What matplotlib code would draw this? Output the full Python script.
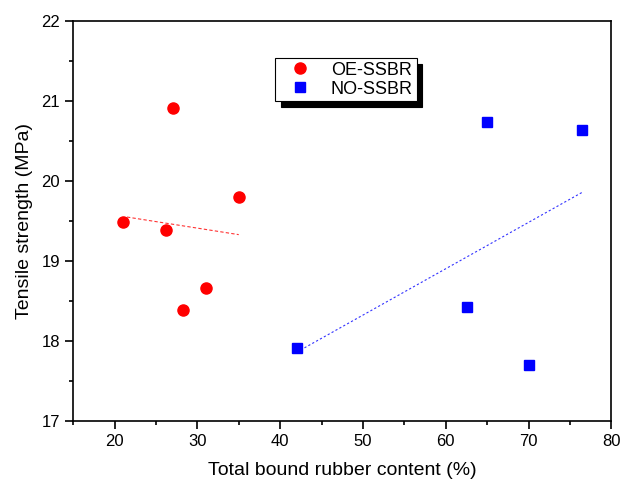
import matplotlib.pyplot as plt
from matplotlib.ticker import MultipleLocator

plt.rcParams['font.family'] = ['Liberation Sans', 'DejaVu Sans']

# OE-SSBR data
oe_x = [21.0, 27.1, 26.2, 35.0, 31.0, 28.3]
oe_y = [19.49, 20.91, 19.39, 19.80, 18.66, 18.39]
# NO-SSBR data
no_x = [42.0, 65.0, 76.5, 62.6, 70.0]
no_y = [17.91, 20.74, 20.64, 18.42, 17.70]

# fitted trend lines (endpoints as drawn)
oe_fit_x = [21.5, 35.0]
oe_fit_y = [19.55, 19.33]
no_fit_x = [42.0, 76.5]
no_fit_y = [17.86, 19.86]

fig = plt.figure(figsize=(6.2, 4.8), dpi=100)
ax = fig.add_axes([0.118, 0.123, 0.868, 0.833])

ax.plot(oe_fit_x, oe_fit_y, color='red', linestyle=(0, (3, 2)), linewidth=0.8, alpha=0.8, zorder=2)
ax.plot(no_fit_x, no_fit_y, color='blue', linestyle=(0, (2, 2)), linewidth=0.8, alpha=0.8, zorder=2)

ax.plot(oe_x, oe_y, 'o', color='red', markersize=8, linestyle='none', label='OE-SSBR', zorder=3)
ax.plot(no_x, no_y, 's', color='blue', markersize=6.5, linestyle='none', label='NO-SSBR', zorder=3)

ax.set_xlim(15, 80)
ax.set_ylim(17, 22)
ax.xaxis.set_major_locator(MultipleLocator(10))
ax.xaxis.set_minor_locator(MultipleLocator(5))
ax.yaxis.set_major_locator(MultipleLocator(1))
ax.yaxis.set_minor_locator(MultipleLocator(0.5))
ax.tick_params(which='major', direction='out', length=6, width=1.2, labelsize=12)
ax.tick_params(which='minor', direction='out', length=3, width=1.2)
ax.xaxis.set_ticks_position('bottom')
ax.yaxis.set_ticks_position('left')
for s in ax.spines.values():
    s.set_linewidth(1.2)

# hide the 15 tick label as in the reference
labels = [f'{int(v)}' if v > 15 else '' for v in ax.get_xticks()]
ax.set_xticks(ax.get_xticks())
ax.set_xticklabels(labels)
ax.set_xlim(15, 80)

ax.set_xlabel('Total bound rubber content (%)', fontsize=14, labelpad=9)
ax.set_ylabel('Tensile strength (MPa)', fontsize=14, labelpad=6)

leg = ax.legend(loc='upper left', bbox_to_anchor=(0.375, 0.9075), borderaxespad=0,
                frameon=True, fancybox=False, edgecolor='black', fontsize=13,
                shadow={'color': 'black', 'ox': 4, 'oy': -4, 'alpha': 1},
                handlelength=2.4, handletextpad=0.5, borderpad=0.2, labelspacing=0.1)
leg.get_frame().set_linewidth(0.8)

fig.savefig('out.png', dpi=100)
